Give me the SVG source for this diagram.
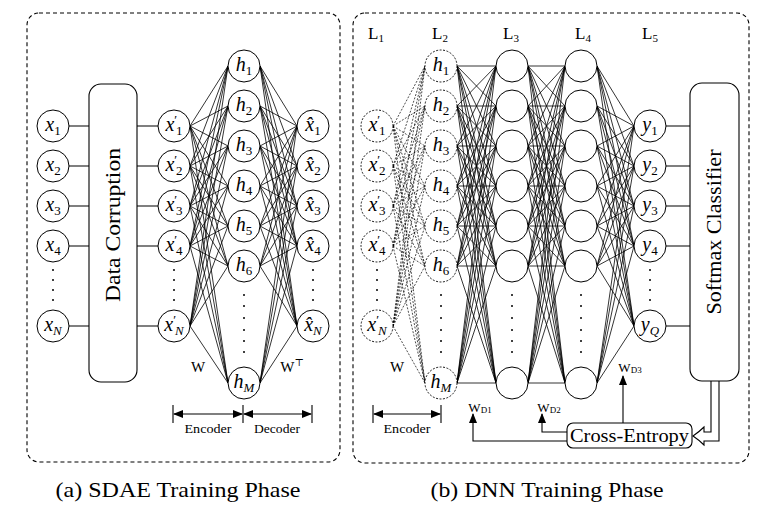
<svg xmlns="http://www.w3.org/2000/svg" width="769" height="511" viewBox="0 0 769 511">
<style>
.panel{fill:none;stroke:#000;stroke-width:1.1;stroke-dasharray:4,3}
.n{fill:#fff;stroke:#000;stroke-width:1}
.dn{fill:#fff;stroke:#000;stroke-width:0.9;stroke-dasharray:2,1.5}
.box{fill:#fff;stroke:#000;stroke-width:1.1}
.e{fill:none;stroke:#000;stroke-width:0.8}
.de{fill:none;stroke:#000;stroke-width:0.7;stroke-dasharray:2,1.5}
.ln{fill:none;stroke:#000;stroke-width:1.1}
.m{font-family:"Liberation Serif","Times New Roman","DejaVu Serif","Noto Serif",serif;font-style:italic;font-size:20px;fill:#000;text-anchor:middle}
.s{font-style:normal;font-size:13px}
.si{font-style:italic;font-size:13px}
.p{font-style:normal;font-size:13px}
.t{font-family:"Liberation Serif","Times New Roman","DejaVu Serif","Noto Serif",serif;fill:#000;text-anchor:middle}
.dot{fill:#000}
</style>
<defs>
<marker id="ah" viewBox="0 0 10 8" refX="9" refY="4" markerWidth="10" markerHeight="8" markerUnits="userSpaceOnUse" orient="auto-start-reverse">
<path d="M0,0 L10,4 L0,8 z" fill="#000"/>
</marker>
</defs>

<rect class="panel" x="27" y="13" width="313" height="449" rx="12"/>
<rect class="panel" x="353" y="13" width="396" height="450" rx="12"/>

<g id="connectors">
<path class="ln" d="M69,126H89M69,166H89M69,206H89M69,246H89M69,326H89M137,126H158M137,166H158M137,206H158M137,246H158M137,326H158"/>
<path class="e" d="M190,126L228,66M190,126L228,106M190,126L228,146M190,126L228,186M190,126L228,226M190,126L228,266M190,126L228,383
M190,166L228,66M190,166L228,106M190,166L228,146M190,166L228,186M190,166L228,226M190,166L228,266M190,166L228,383
M190,206L228,66M190,206L228,106M190,206L228,146M190,206L228,186M190,206L228,226M190,206L228,266M190,206L228,383
M190,246L228,66M190,246L228,106M190,246L228,146M190,246L228,186M190,246L228,226M190,246L228,266M190,246L228,383
M190,326L228,66M190,326L228,106M190,326L228,146M190,326L228,186M190,326L228,226M190,326L228,266M190,326L228,383"/>
<path class="e" d="M260,66L297,126M260,66L297,166M260,66L297,206M260,66L297,246M260,66L297,326
M260,106L297,126M260,106L297,166M260,106L297,206M260,106L297,246M260,106L297,326
M260,146L297,126M260,146L297,166M260,146L297,206M260,146L297,246M260,146L297,326
M260,186L297,126M260,186L297,166M260,186L297,206M260,186L297,246M260,186L297,326
M260,226L297,126M260,226L297,166M260,226L297,206M260,226L297,246M260,226L297,326
M260,266L297,126M260,266L297,166M260,266L297,206M260,266L297,246M260,266L297,326
M260,383L297,126M260,383L297,166M260,383L297,206M260,383L297,246M260,383L297,326"/>
<path class="de" d="M393,126L425,66M393,126L425,106M393,126L425,146M393,126L425,186M393,126L425,226M393,126L425,266M393,126L425,383
M393,166L425,66M393,166L425,106M393,166L425,146M393,166L425,186M393,166L425,226M393,166L425,266M393,166L425,383
M393,206L425,66M393,206L425,106M393,206L425,146M393,206L425,186M393,206L425,226M393,206L425,266M393,206L425,383
M393,246L425,66M393,246L425,106M393,246L425,146M393,246L425,186M393,246L425,226M393,246L425,266M393,246L425,383
M393,326L425,66M393,326L425,106M393,326L425,146M393,326L425,186M393,326L425,226M393,326L425,266M393,326L425,383"/>
<path class="e" d="M457,66L496,66M457,66L496,106M457,66L496,146M457,66L496,186M457,66L496,226M457,66L496,266M457,66L496,383
M457,106L496,66M457,106L496,106M457,106L496,146M457,106L496,186M457,106L496,226M457,106L496,266M457,106L496,383
M457,146L496,66M457,146L496,106M457,146L496,146M457,146L496,186M457,146L496,226M457,146L496,266M457,146L496,383
M457,186L496,66M457,186L496,106M457,186L496,146M457,186L496,186M457,186L496,226M457,186L496,266M457,186L496,383
M457,226L496,66M457,226L496,106M457,226L496,146M457,226L496,186M457,226L496,226M457,226L496,266M457,226L496,383
M457,266L496,66M457,266L496,106M457,266L496,146M457,266L496,186M457,266L496,226M457,266L496,266M457,266L496,383
M457,383L496,66M457,383L496,106M457,383L496,146M457,383L496,186M457,383L496,226M457,383L496,266M457,383L496,383"/>
<path class="e" d="M528,66L565,66M528,66L565,106M528,66L565,146M528,66L565,186M528,66L565,226M528,66L565,266M528,66L565,383
M528,106L565,66M528,106L565,106M528,106L565,146M528,106L565,186M528,106L565,226M528,106L565,266M528,106L565,383
M528,146L565,66M528,146L565,106M528,146L565,146M528,146L565,186M528,146L565,226M528,146L565,266M528,146L565,383
M528,186L565,66M528,186L565,106M528,186L565,146M528,186L565,186M528,186L565,226M528,186L565,266M528,186L565,383
M528,226L565,66M528,226L565,106M528,226L565,146M528,226L565,186M528,226L565,226M528,226L565,266M528,226L565,383
M528,266L565,66M528,266L565,106M528,266L565,146M528,266L565,186M528,266L565,226M528,266L565,266M528,266L565,383
M528,383L565,66M528,383L565,106M528,383L565,146M528,383L565,186M528,383L565,226M528,383L565,266M528,383L565,383"/>
<path class="e" d="M597,66L634,126M597,66L634,166M597,66L634,206M597,66L634,246M597,66L634,326
M597,106L634,126M597,106L634,166M597,106L634,206M597,106L634,246M597,106L634,326
M597,146L634,126M597,146L634,166M597,146L634,206M597,146L634,246M597,146L634,326
M597,186L634,126M597,186L634,166M597,186L634,206M597,186L634,246M597,186L634,326
M597,226L634,126M597,226L634,166M597,226L634,206M597,226L634,246M597,226L634,326
M597,266L634,126M597,266L634,166M597,266L634,206M597,266L634,246M597,266L634,326
M597,383L634,126M597,383L634,166M597,383L634,206M597,383L634,246M597,383L634,326"/>
<path class="ln" d="M666,126H690M666,166H690M666,206H690M666,246H690M666,326H690"/>
<path class="ln" d="M173,405V423M243,405V423M312,405V423M373,405V423M441,405V423"/>
<line class="ln" x1="174" y1="414" x2="242" y2="414" marker-start="url(#ah)" marker-end="url(#ah)"/>
<line class="ln" x1="244" y1="414" x2="311" y2="414" marker-start="url(#ah)" marker-end="url(#ah)"/>
<line class="ln" x1="374" y1="414" x2="440" y2="414" marker-start="url(#ah)" marker-end="url(#ah)"/>
<path class="ln" d="M567,441H473V414" marker-end="url(#ah)"/>
<path class="ln" d="M567,432H542V414" marker-end="url(#ah)"/>
<path class="ln" d="M623,423V376" marker-end="url(#ah)"/>
<path d="M711,381V432H704V427Q699,432 693,436Q699,440 704,445V441H719V381" fill="#fff" stroke="#000" stroke-width="1.1"/>
</g>

<g id="x1"><circle class="n" cx="53" cy="126" r="16"/><text class="m" x="53" y="131">x<tspan class="s" dy="4">1</tspan></text></g>
<g id="x2"><circle class="n" cx="53" cy="166" r="16"/><text class="m" x="53" y="171">x<tspan class="s" dy="4">2</tspan></text></g>
<g id="x3"><circle class="n" cx="53" cy="206" r="16"/><text class="m" x="53" y="211">x<tspan class="s" dy="4">3</tspan></text></g>
<g id="x4"><circle class="n" cx="53" cy="246" r="16"/><text class="m" x="53" y="251">x<tspan class="s" dy="4">4</tspan></text></g>
<g id="xN"><circle class="n" cx="53" cy="326" r="16"/><text class="m" x="53" y="331">x<tspan class="si" dy="4">N</tspan></text></g>
<g id="corruption"><rect class="box" x="89" y="84" width="48" height="298" rx="12"/><text class="t" font-size="21" textLength="154" lengthAdjust="spacingAndGlyphs" transform="translate(120,225) rotate(-90)">Data Corruption</text></g>

<g id="xp1"><circle class="n" cx="174" cy="126" r="16"/><text class="m" x="174" y="131">x<tspan class="p" dy="-7">′</tspan><tspan class="s" dx="-1" dy="11">1</tspan></text></g>
<g id="xp2"><circle class="n" cx="174" cy="166" r="16"/><text class="m" x="174" y="171">x<tspan class="p" dy="-7">′</tspan><tspan class="s" dx="-1" dy="11">2</tspan></text></g>
<g id="xp3"><circle class="n" cx="174" cy="206" r="16"/><text class="m" x="174" y="211">x<tspan class="p" dy="-7">′</tspan><tspan class="s" dx="-1" dy="11">3</tspan></text></g>
<g id="xp4"><circle class="n" cx="174" cy="246" r="16"/><text class="m" x="174" y="251">x<tspan class="p" dy="-7">′</tspan><tspan class="s" dx="-1" dy="11">4</tspan></text></g>
<g id="xpN"><circle class="n" cx="174" cy="326" r="16"/><text class="m" x="174" y="331">x<tspan class="p" dy="-7">′</tspan><tspan class="si" dx="-1" dy="11">N</tspan></text></g>

<g id="h1"><circle class="n" cx="244" cy="66" r="16"/><text class="m" x="244" y="71">h<tspan class="s" dy="4">1</tspan></text></g>
<g id="h2"><circle class="n" cx="244" cy="106" r="16"/><text class="m" x="244" y="111">h<tspan class="s" dy="4">2</tspan></text></g>
<g id="h3"><circle class="n" cx="244" cy="146" r="16"/><text class="m" x="244" y="151">h<tspan class="s" dy="4">3</tspan></text></g>
<g id="h4"><circle class="n" cx="244" cy="186" r="16"/><text class="m" x="244" y="191">h<tspan class="s" dy="4">4</tspan></text></g>
<g id="h5"><circle class="n" cx="244" cy="226" r="16"/><text class="m" x="244" y="231">h<tspan class="s" dy="4">5</tspan></text></g>
<g id="h6"><circle class="n" cx="244" cy="266" r="16"/><text class="m" x="244" y="271">h<tspan class="s" dy="4">6</tspan></text></g>
<g id="hM"><circle class="n" cx="244" cy="383" r="16"/><text class="m" x="244" y="388">h<tspan class="si" dy="4">M</tspan></text></g>

<g id="xh1"><circle class="n" cx="313" cy="126" r="16"/><text class="m" x="313" y="131">x̂<tspan class="s" dy="4">1</tspan></text></g>
<g id="xh2"><circle class="n" cx="313" cy="166" r="16"/><text class="m" x="313" y="171">x̂<tspan class="s" dy="4">2</tspan></text></g>
<g id="xh3"><circle class="n" cx="313" cy="206" r="16"/><text class="m" x="313" y="211">x̂<tspan class="s" dy="4">3</tspan></text></g>
<g id="xh4"><circle class="n" cx="313" cy="246" r="16"/><text class="m" x="313" y="251">x̂<tspan class="s" dy="4">4</tspan></text></g>
<g id="xhN"><circle class="n" cx="313" cy="326" r="16"/><text class="m" x="313" y="331">x̂<tspan class="si" dy="4">N</tspan></text></g>

<g id="rxp1"><circle class="dn" cx="377" cy="126" r="16"/><text class="m" x="377" y="131">x<tspan class="p" dy="-7">′</tspan><tspan class="s" dx="-1" dy="11">1</tspan></text></g>
<g id="rxp2"><circle class="dn" cx="377" cy="166" r="16"/><text class="m" x="377" y="171">x<tspan class="p" dy="-7">′</tspan><tspan class="s" dx="-1" dy="11">2</tspan></text></g>
<g id="rxp3"><circle class="dn" cx="377" cy="206" r="16"/><text class="m" x="377" y="211">x<tspan class="p" dy="-7">′</tspan><tspan class="s" dx="-1" dy="11">3</tspan></text></g>
<g id="rxp4"><circle class="dn" cx="377" cy="246" r="16"/><text class="m" x="377" y="251">x<tspan class="p" dy="-7">′</tspan><tspan class="s" dx="-1" dy="11">4</tspan></text></g>
<g id="rxpN"><circle class="dn" cx="377" cy="326" r="16"/><text class="m" x="377" y="331">x<tspan class="p" dy="-7">′</tspan><tspan class="si" dx="-1" dy="11">N</tspan></text></g>

<g id="rh1"><circle class="dn" cx="441" cy="66" r="16"/><text class="m" x="441" y="71">h<tspan class="s" dy="4">1</tspan></text></g>
<g id="rh2"><circle class="dn" cx="441" cy="106" r="16"/><text class="m" x="441" y="111">h<tspan class="s" dy="4">2</tspan></text></g>
<g id="rh3"><circle class="dn" cx="441" cy="146" r="16"/><text class="m" x="441" y="151">h<tspan class="s" dy="4">3</tspan></text></g>
<g id="rh4"><circle class="dn" cx="441" cy="186" r="16"/><text class="m" x="441" y="191">h<tspan class="s" dy="4">4</tspan></text></g>
<g id="rh5"><circle class="dn" cx="441" cy="226" r="16"/><text class="m" x="441" y="231">h<tspan class="s" dy="4">5</tspan></text></g>
<g id="rh6"><circle class="dn" cx="441" cy="266" r="16"/><text class="m" x="441" y="271">h<tspan class="s" dy="4">6</tspan></text></g>
<g id="rhM"><circle class="dn" cx="441" cy="383" r="16"/><text class="m" x="441" y="388">h<tspan class="si" dy="4">M</tspan></text></g>

<g id="L3">
<circle class="n" cx="512" cy="66" r="16"/><circle class="n" cx="512" cy="106" r="16"/><circle class="n" cx="512" cy="146" r="16"/><circle class="n" cx="512" cy="186" r="16"/><circle class="n" cx="512" cy="226" r="16"/><circle class="n" cx="512" cy="266" r="16"/><circle class="n" cx="512" cy="383" r="16"/>
</g>
<g id="L4">
<circle class="n" cx="581" cy="66" r="16"/><circle class="n" cx="581" cy="106" r="16"/><circle class="n" cx="581" cy="146" r="16"/><circle class="n" cx="581" cy="186" r="16"/><circle class="n" cx="581" cy="226" r="16"/><circle class="n" cx="581" cy="266" r="16"/><circle class="n" cx="581" cy="383" r="16"/>
</g>

<g id="y1"><circle class="n" cx="650" cy="126" r="16"/><text class="m" x="650" y="131">y<tspan class="s" dy="4">1</tspan></text></g>
<g id="y2"><circle class="n" cx="650" cy="166" r="16"/><text class="m" x="650" y="171">y<tspan class="s" dy="4">2</tspan></text></g>
<g id="y3"><circle class="n" cx="650" cy="206" r="16"/><text class="m" x="650" y="211">y<tspan class="s" dy="4">3</tspan></text></g>
<g id="y4"><circle class="n" cx="650" cy="246" r="16"/><text class="m" x="650" y="251">y<tspan class="s" dy="4">4</tspan></text></g>
<g id="yQ"><circle class="n" cx="650" cy="326" r="16"/><text class="m" x="650" y="331">y<tspan class="si" dy="4">Q</tspan></text></g>

<g id="softmax"><rect class="box" x="690" y="83" width="49" height="298" rx="12"/><text class="t" font-size="21" textLength="165" lengthAdjust="spacingAndGlyphs" transform="translate(721,232) rotate(-90)">Softmax Classifier</text></g>
<g id="crossentropy"><rect class="box" x="567" y="423" width="125" height="25" rx="6"/><text class="t" font-size="19" x="629.5" y="442" textLength="119" lengthAdjust="spacingAndGlyphs">Cross-Entropy</text></g>

<g id="dots" class="dot">
<circle cx="53" cy="270" r="1"/><circle cx="53" cy="280" r="1"/><circle cx="53" cy="290" r="1"/><circle cx="53" cy="300" r="1"/>
<circle cx="174" cy="270" r="1"/><circle cx="174" cy="280" r="1"/><circle cx="174" cy="290" r="1"/><circle cx="174" cy="300" r="1"/>
<circle cx="313" cy="270" r="1"/><circle cx="313" cy="280" r="1"/><circle cx="313" cy="290" r="1"/><circle cx="313" cy="300" r="1"/>
<circle cx="377" cy="270" r="1"/><circle cx="377" cy="280" r="1"/><circle cx="377" cy="290" r="1"/><circle cx="377" cy="300" r="1"/>
<circle cx="650" cy="270" r="1"/><circle cx="650" cy="280" r="1"/><circle cx="650" cy="290" r="1"/><circle cx="650" cy="300" r="1"/>
<circle cx="244" cy="295" r="1"/><circle cx="244" cy="306" r="1"/><circle cx="244" cy="318" r="1"/><circle cx="244" cy="330" r="1"/><circle cx="244" cy="341" r="1"/><circle cx="244" cy="352" r="1"/>
<circle cx="441" cy="295" r="1"/><circle cx="441" cy="306" r="1"/><circle cx="441" cy="318" r="1"/><circle cx="441" cy="330" r="1"/><circle cx="441" cy="341" r="1"/><circle cx="441" cy="352" r="1"/>
<circle cx="512" cy="295" r="1"/><circle cx="512" cy="306" r="1"/><circle cx="512" cy="318" r="1"/><circle cx="512" cy="330" r="1"/><circle cx="512" cy="341" r="1"/><circle cx="512" cy="352" r="1"/>
<circle cx="581" cy="295" r="1"/><circle cx="581" cy="306" r="1"/><circle cx="581" cy="318" r="1"/><circle cx="581" cy="330" r="1"/><circle cx="581" cy="341" r="1"/><circle cx="581" cy="352" r="1"/>
</g>

<g id="labels">
<text class="t" font-size="15" x="198" y="372">W</text>
<text class="t" font-size="15" x="292" y="372">W<tspan font-size="10" dy="-6">⊤</tspan></text>
<text class="t" font-size="15" x="397" y="372">W</text>
<text class="t" font-size="12" x="208" y="433" textLength="47" lengthAdjust="spacingAndGlyphs">Encoder</text>
<text class="t" font-size="12" x="277" y="433" textLength="46" lengthAdjust="spacingAndGlyphs">Decoder</text>
<text class="t" font-size="12" x="407" y="433" textLength="47" lengthAdjust="spacingAndGlyphs">Encoder</text>
<text class="t" font-size="13" x="480" y="412">W<tspan font-size="9" dy="1">D1</tspan></text>
<text class="t" font-size="13" x="549" y="412">W<tspan font-size="9" dy="1">D2</tspan></text>
<text class="t" font-size="13" x="630" y="372">W<tspan font-size="9" dy="1">D3</tspan></text>
<text class="t" font-size="17" x="376" y="39">L<tspan font-size="11" dy="3">1</tspan></text>
<text class="t" font-size="17" x="440" y="39">L<tspan font-size="11" dy="3">2</tspan></text>
<text class="t" font-size="17" x="511" y="39">L<tspan font-size="11" dy="3">3</tspan></text>
<text class="t" font-size="17" x="583" y="39">L<tspan font-size="11" dy="3">4</tspan></text>
<text class="t" font-size="17" x="650" y="39">L<tspan font-size="11" dy="3">5</tspan></text>
<text class="t" font-size="21" x="178" y="497" textLength="245" lengthAdjust="spacingAndGlyphs">(a) SDAE Training Phase</text>
<text class="t" font-size="21" x="547" y="497" textLength="233" lengthAdjust="spacingAndGlyphs">(b) DNN Training Phase</text>
</g>
</svg>
